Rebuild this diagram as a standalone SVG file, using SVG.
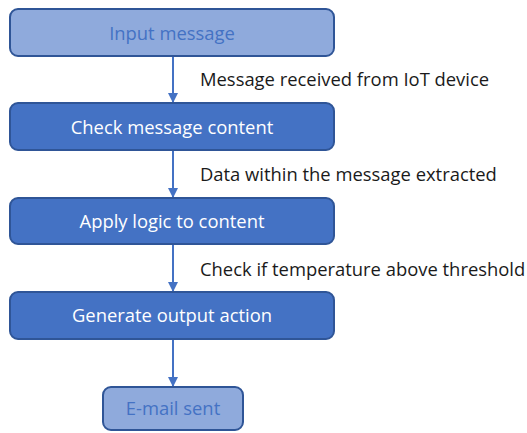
<svg xmlns="http://www.w3.org/2000/svg" width="527" height="433" viewBox="0 0 527 433">
<style>
.box{stroke:#2f5597;stroke-width:2}
.light{fill:#8faadc}
.dark{fill:#4472c4}
.t{font-family:"Open Sans","Liberation Sans",sans-serif;font-size:18.4px;text-anchor:middle}
.tl{fill:#4472c4}
.tw{fill:#ffffff}
.lbl{font-family:"Open Sans","Liberation Sans",sans-serif;font-size:18.4px;fill:#1a1a1a}
.conn{stroke:#4472c4;stroke-width:2;fill:none;marker-end:url(#ah)}
</style>
<defs>
<marker id="ah" viewBox="0 0 10 10" refX="10" refY="5" markerWidth="5" markerHeight="5" orient="auto" markerUnits="strokeWidth">
<path d="M0,0 L10,5 L0,10 z" fill="#4472c4"/>
</marker>
</defs>
<rect width="527" height="433" fill="#ffffff"/>
<g id="connectors">
<line class="conn" x1="173" y1="56" x2="173" y2="103"/>
<line class="conn" x1="173" y1="150" x2="173" y2="198"/>
<line class="conn" x1="173" y1="244" x2="173" y2="292"/>
<line class="conn" x1="173" y1="339" x2="173" y2="387"/>
</g>
<g id="label1"><text class="lbl" x="200" y="86">Message received from IoT device</text></g>
<g id="label2"><text class="lbl" x="200" y="181">Data within the message extracted</text></g>
<g id="label3"><text class="lbl" x="200" y="276">Check if temperature above threshold</text></g>
<g id="input"><rect class="box light" x="10" y="9" width="324" height="47" rx="8"/><text class="t tl" x="172" y="40">Input message</text></g>
<g id="check"><rect class="box dark" x="10" y="103" width="324" height="47" rx="8"/><text class="t tw" x="172" y="134">Check message content</text></g>
<g id="apply"><rect class="box dark" x="10" y="198" width="324" height="46" rx="8"/><text class="t tw" x="172" y="228">Apply logic to content</text></g>
<g id="generate"><rect class="box dark" x="10" y="292" width="324" height="47" rx="8"/><text class="t tw" x="172" y="322">Generate output action</text></g>
<g id="email"><rect class="box light" x="103" y="387" width="140" height="43" rx="8"/><text class="t tl" x="173" y="415">E-mail sent</text></g>
</svg>
